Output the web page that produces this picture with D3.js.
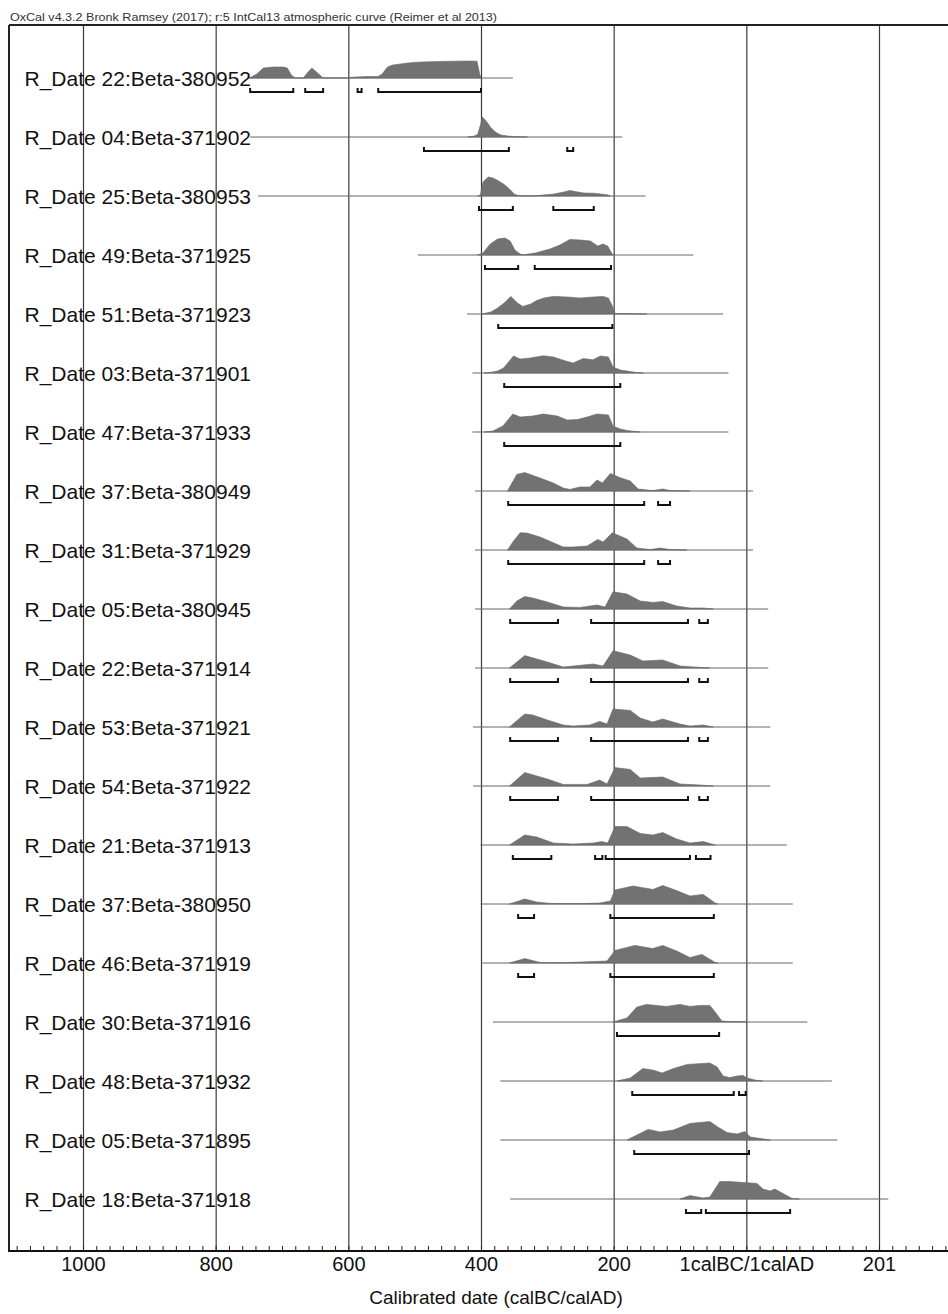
<!DOCTYPE html>
<html><head><meta charset="utf-8">
<script src="https://cdn.jsdelivr.net/npm/d3@7/dist/d3.min.js"></script>
<style>body{margin:0;background:#fff}svg{display:block}</style>
</head><body><div id="chart"></div>
<script>
// Sample labels (top to bottom)
const labels = [
  "R_Date 22:Beta-380952","R_Date 04:Beta-371902","R_Date 25:Beta-380953","R_Date 49:Beta-371925",
  "R_Date 51:Beta-371923","R_Date 03:Beta-371901","R_Date 47:Beta-371933","R_Date 37:Beta-380949",
  "R_Date 31:Beta-371929","R_Date 05:Beta-380945","R_Date 22:Beta-371914","R_Date 53:Beta-371921",
  "R_Date 54:Beta-371922","R_Date 21:Beta-371913","R_Date 37:Beta-380950","R_Date 46:Beta-371919",
  "R_Date 30:Beta-371916","R_Date 48:Beta-371932","R_Date 05:Beta-371895","R_Date 18:Beta-371918"
];
// Extent of each distribution's baseline (astronomical years, negative = BC)
const lineRanges = [
  [-751,-352],[-748,-187],[-736,-152],[-495,-80],[-421,-35],[-413,-27],[-413,-27],[-409,10],
  [-409,10],[-409,33],[-409,33],[-412,36],[-412,36],[-401,61],[-401,70],[-398,70],
  [-382,92],[-371,129],[-371,137],[-356,214]
];
// Probability profiles: [year, relative probability 0-100]
const profiles = [
  [[-751,0],[-748,2],[-738,20],[-728,50],[-712,55],[-698,55],[-692,50],[-686,15],[-680,0],[-668,0],[-662,25],[-655,50],[-648,30],[-638,0],[-600,0],[-593,4],[-575,7],[-555,8],[-549,20],[-541,55],[-533,65],[-510,75],[-490,80],[-460,83],[-420,85],[-406,84],[-402,20],[-400,0]],
  [[-420,0],[-412,3],[-405,12],[-400,70],[-398,100],[-395,90],[-390,70],[-386,50],[-380,30],[-376,20],[-370,10],[-360,5],[-350,2],[-330,0]],
  [[-405,0],[-401,5],[-397,70],[-389,95],[-382,90],[-376,80],[-366,60],[-357,35],[-350,10],[-344,2],[-330,0],[-315,2],[-290,10],[-275,20],[-266,28],[-258,22],[-245,15],[-230,14],[-220,10],[-210,6],[-205,0]],
  [[-405,0],[-397,10],[-386,55],[-375,80],[-364,85],[-356,70],[-349,25],[-341,5],[-336,1],[-318,10],[-296,30],[-281,50],[-266,78],[-250,75],[-235,70],[-224,45],[-216,55],[-209,45],[-204,15],[-201,0]],
  [[-400,0],[-397,1],[-385,10],[-375,30],[-365,55],[-355,88],[-345,55],[-337,38],[-325,50],[-316,68],[-305,80],[-291,88],[-270,85],[-251,80],[-231,85],[-216,88],[-208,80],[-202,40],[-198,3],[-190,2],[-170,1],[-150,0]],
  [[-395,0],[-386,3],[-375,10],[-366,25],[-351,85],[-341,70],[-326,75],[-306,86],[-291,80],[-270,58],[-261,50],[-246,72],[-231,66],[-220,85],[-208,80],[-201,30],[-190,15],[-180,10],[-165,2],[-155,0]],
  [[-395,0],[-382,5],[-367,30],[-352,90],[-341,75],[-322,80],[-306,90],[-285,80],[-270,60],[-255,62],[-240,75],[-225,90],[-208,85],[-201,30],[-190,15],[-180,8],[-171,4],[-160,0]],
  [[-360,0],[-355,30],[-346,83],[-334,92],[-311,65],[-291,40],[-276,15],[-266,8],[-251,20],[-236,20],[-225,55],[-217,40],[-205,88],[-190,66],[-175,50],[-163,10],[-141,2],[-126,10],[-115,2],[-85,0]],
  [[-360,0],[-352,40],[-341,86],[-331,85],[-311,65],[-276,15],[-261,15],[-240,20],[-224,53],[-216,40],[-202,86],[-180,55],[-165,10],[-145,2],[-130,10],[-115,2],[-90,0]],
  [[-357,0],[-346,40],[-334,62],[-322,55],[-300,35],[-276,10],[-251,8],[-225,20],[-213,10],[-201,86],[-180,75],[-160,40],[-141,33],[-126,37],[-105,15],[-85,5],[-65,5],[-50,0]],
  [[-357,0],[-334,62],[-300,30],[-276,5],[-231,20],[-216,10],[-201,86],[-175,65],[-156,35],[-126,40],[-100,10],[-70,3],[-55,0]],
  [[-357,0],[-334,65],[-322,60],[-300,35],[-276,10],[-261,5],[-236,10],[-221,28],[-210,15],[-201,90],[-175,83],[-160,45],[-141,25],[-126,40],[-100,15],[-85,5],[-65,10],[-50,0]],
  [[-357,0],[-334,67],[-300,35],[-276,8],[-240,8],[-221,30],[-210,10],[-198,92],[-175,83],[-160,40],[-126,45],[-100,10],[-70,5],[-50,0]],
  [[-357,0],[-334,50],[-316,40],[-291,10],[-261,5],[-231,10],[-218,17],[-209,10],[-198,92],[-180,92],[-160,58],[-141,50],[-126,62],[-105,30],[-85,10],[-65,17],[-47,0]],
  [[-357,0],[-334,25],[-316,10],[-296,3],[-250,2],[-221,5],[-205,15],[-198,70],[-171,90],[-141,73],[-126,92],[-105,67],[-85,40],[-65,48],[-47,5],[-43,0]],
  [[-357,0],[-334,22],[-311,3],[-280,1],[-210,10],[-198,63],[-168,88],[-141,72],[-126,88],[-105,60],[-85,27],[-67,43],[-47,3],[-43,0]],
  [[-201,0],[-180,20],[-165,75],[-150,88],[-135,82],[-120,78],[-100,88],[-85,78],[-70,83],[-55,83],[-47,50],[-37,5],[-30,3],[-10,2],[0,0]],
  [[-195,0],[-175,15],[-156,62],[-141,55],[-127,40],[-110,62],[-89,83],[-55,90],[-44,70],[-35,25],[-25,17],[-14,25],[-5,28],[1,15],[16,3],[25,0]],
  [[-180,0],[-165,25],[-148,53],[-130,40],[-110,50],[-85,83],[-55,92],[-43,65],[-29,37],[-14,30],[-2,42],[6,15],[21,8],[36,0]],
  [[-100,0],[-85,17],[-65,5],[-55,10],[-40,87],[-25,87],[16,78],[25,50],[36,40],[43,50],[54,30],[69,3],[80,0]]
];
// Highest posterior density ranges (brackets)
const brackets = [
  [[-748,-683],[-665,-638],[-586,-580],[-555,-400]],
  [[-486,-358],[-270,-261]],
  [[-403,-352],[-291,-230]],
  [[-394,-344],[-319,-204]],
  [[-374,-202]],
  [[-365,-190]],
  [[-365,-190]],
  [[-359,-154],[-133,-115]],
  [[-359,-154],[-133,-115]],
  [[-356,-284],[-234,-88],[-71,-58]],
  [[-356,-284],[-234,-88],[-71,-58]],
  [[-356,-284],[-234,-88],[-71,-58]],
  [[-356,-284],[-234,-88],[-71,-58]],
  [[-352,-294],[-228,-217],[-212,-85],[-76,-54]],
  [[-344,-320],[-205,-49]],
  [[-344,-320],[-205,-49]],
  [[-195,-41]],
  [[-172,-19],[-11,-1]],
  [[-169,4]],
  [[-91,-68],[-61,66]]
];
const tickValues = [-1000,-800,-600,-400,-200,0,200];
const tickLabels = ["1000","800","600","400","200","1calBC/1calAD","201"];
const titleText = "OxCal v4.3.2 Bronk Ramsey (2017); r:5 IntCal13 atmospheric curve (Reimer et al 2013)";
const axisTitle = "Calibrated date (calBC/calAD)";

const W = 948, H = 1314;
const frameLeft = 9, frameTop = 25, axisY = 1251;
const FONT = "'Liberation Sans', Arial, sans-serif";

const svg = d3.select("#chart").append("svg").attr("width", W).attr("height", H);

const x = d3.scaleLinear().domain([-1000, 200]).range([83, 879]);
const rowY = d3.scaleLinear().domain([0, labels.length - 1]).range([78, 1199]);
const hScale = d3.scaleLinear().domain([0, 100]).range([0, 20]);

// Title
svg.append("text").attr("x", 10).attr("y", 21).attr("font-family", FONT)
  .attr("font-size", 11).attr("fill", "#333").attr("textLength", 487)
  .attr("lengthAdjust", "spacingAndGlyphs").text(titleText);

// Grid lines + labels via axis
const gridAxis = d3.axisBottom(x).tickValues(tickValues)
  .tickFormat((d, i) => tickLabels[i])
  .tickSizeInner(-(axisY - frameTop)).tickSizeOuter(0).tickPadding(6);
const g = svg.append("g").attr("transform", `translate(0,${axisY})`).call(gridAxis);
g.select(".domain").remove();
g.selectAll(".tick line").attr("stroke", "#3a3a3a").attr("stroke-width", 1.2);
g.selectAll(".tick text").attr("font-family", FONT).attr("font-size", 20)
  .attr("fill", "#111").attr("y", 6);

// Minor ticks
const minorAxis = d3.axisBottom(x).tickValues(d3.range(-1100, 301, 20))
  .tickFormat("").tickSizeInner(-5).tickSizeOuter(0);
const gm = svg.append("g").attr("transform", `translate(0,${axisY})`).call(minorAxis);
gm.select(".domain").remove();
gm.selectAll(".tick line").attr("stroke", "#222").attr("stroke-width", 1);

// Rows
const rows = svg.append("g");
labels.forEach((lab, i) => {
  const base = rowY(i);
  const r = rows.append("g");
  r.append("line").attr("x1", x(lineRanges[i][0])).attr("x2", x(lineRanges[i][1]))
    .attr("y1", base).attr("y2", base).attr("stroke", "#666").attr("stroke-width", 1);
  const area = d3.area().x(d => x(d[0])).y0(base).y1(d => base - hScale(d[1]));
  r.append("path").datum(profiles[i]).attr("d", area)
    .attr("fill", "#727272").attr("stroke", "#666").attr("stroke-width", 0.6);
  const by = base + 14;
  brackets[i].forEach(b => {
    const x0 = x(b[0]), x1 = x(b[1]);
    r.append("path").attr("d", `M${x0},${by - 4}L${x0},${by}L${x1},${by}L${x1},${by - 4}`)
      .attr("fill", "none").attr("stroke", "#111").attr("stroke-width", 2);
  });
  r.append("text").attr("x", 24.5).attr("y", base + 7.5).attr("font-family", FONT)
    .attr("font-size", 21).attr("fill", "#111").text(lab);
});

// Frame
svg.append("line").attr("x1", frameLeft).attr("x2", W + 5).attr("y1", frameTop).attr("y2", frameTop)
  .attr("stroke", "#222").attr("stroke-width", 2);
svg.append("line").attr("x1", frameLeft).attr("x2", frameLeft).attr("y1", frameTop).attr("y2", axisY)
  .attr("stroke", "#222").attr("stroke-width", 2);
svg.append("line").attr("x1", frameLeft - 1).attr("x2", W + 5).attr("y1", axisY).attr("y2", axisY)
  .attr("stroke", "#111").attr("stroke-width", 2.2);

// Axis title
svg.append("text").attr("x", 496).attr("y", 1304).attr("text-anchor", "middle")
  .attr("font-family", FONT).attr("font-size", 19).attr("fill", "#111").text(axisTitle);
</script>
</body></html>
